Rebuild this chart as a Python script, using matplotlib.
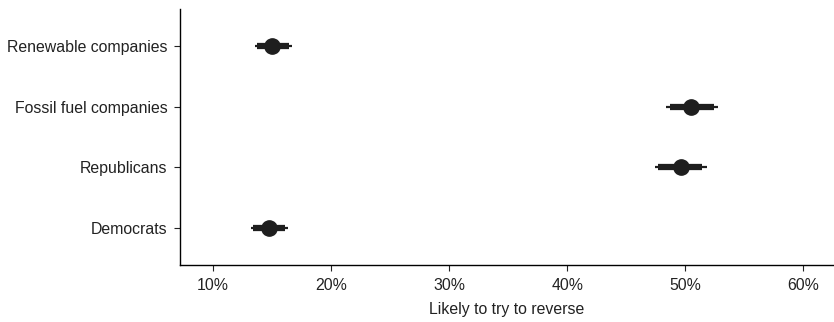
import matplotlib
matplotlib.use("Agg")
import matplotlib.pyplot as plt
from matplotlib.ticker import FuncFormatter

plt.rcParams['font.family'] = ['Liberation Sans', 'DejaVu Sans']

groups = ["Democrats", "Republicans", "Fossil fuel companies", "Renewable companies"]
estimate = [14.75, 49.6, 50.5, 15.0]
# outer (thin) and inner (thick) intervals
lo_outer = [13.2, 47.4, 48.4, 13.55]
hi_outer = [16.35, 51.8, 52.8, 16.7]
lo_inner = [13.4, 47.7, 48.7, 13.75]
hi_inner = [16.1, 51.4, 52.4, 16.45]

fig = plt.figure(figsize=(8.34, 3.22), dpi=100)
ax = fig.add_axes([180 / 834, 1 - 265 / 322, 654 / 834, 256 / 322])

ink = "#1e1e1e"
ypos = range(1, len(groups) + 1)
for y, e, lo, hi, li, hi2 in zip(ypos, estimate, lo_outer, hi_outer, lo_inner, hi_inner):
    ax.plot([lo, hi], [y, y], color=ink, lw=1.6, solid_capstyle="butt")
    ax.plot([li, hi2], [y, y], color=ink, lw=4.5, solid_capstyle="butt")
    ax.plot(e, y, "o", color=ink, ms=11)

ax.set_xlim(7.2, 62.6)
ax.set_ylim(0.4, 4.6)
ax.set_xticks([10, 20, 30, 40, 50, 60])
ax.xaxis.set_major_formatter(FuncFormatter(lambda v, p: f"{v:.0f}%"))
ax.set_yticks(list(ypos))
ax.set_yticklabels(groups)
ax.set_xlabel("Likely to try to reverse", fontsize=11.4, color="#222222", labelpad=7)

for s in ["top", "right"]:
    ax.spines[s].set_visible(False)
for s in ["left", "bottom"]:
    ax.spines[s].set_linewidth(1.0)
    ax.spines[s].set_color("black")
ax.tick_params(length=4, width=0.8, labelsize=11.4, colors="#222222", pad=5)
ax.tick_params(axis="x", pad=5)

fig.savefig("out.png", dpi=100)
